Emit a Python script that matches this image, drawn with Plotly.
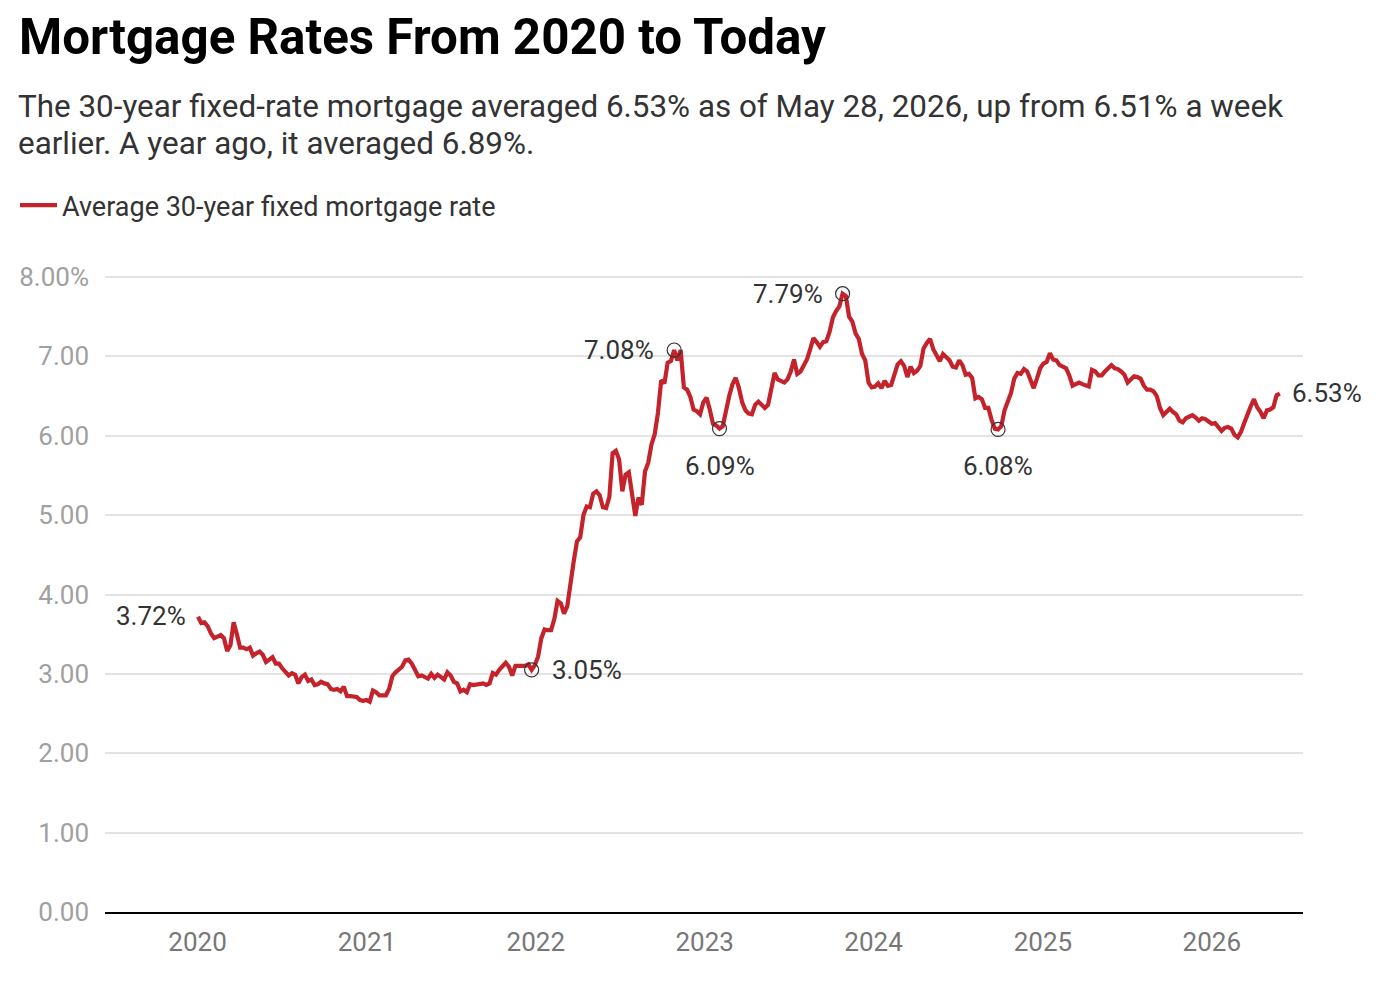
import pandas as pd
import plotly.graph_objects as go

# Weekly average 30-year fixed mortgage rate (%), Thursdays from 2020-01-02
rates_2020 = [3.72, 3.64, 3.65, 3.60, 3.51, 3.45, 3.47, 3.49, 3.45, 3.29, 3.36, 3.65, 3.50,
              3.33, 3.33, 3.31, 3.33, 3.23, 3.26, 3.28, 3.24, 3.15, 3.18, 3.21, 3.13, 3.13,
              3.07, 3.03, 2.98, 3.01, 2.99, 2.88, 2.96, 2.99, 2.91, 2.93, 2.86, 2.87, 2.90,
              2.88, 2.87, 2.81, 2.80, 2.81, 2.78, 2.84, 2.72, 2.72, 2.71, 2.71, 2.67, 2.66, 2.67]
rates_2021 = [2.65, 2.79, 2.77, 2.73, 2.73, 2.73, 2.81, 2.97, 3.02, 3.05, 3.09, 3.17,
              3.18, 3.13, 3.04, 2.97, 2.98, 2.96, 2.94, 3.00, 2.95, 2.99, 2.96, 2.93, 3.02,
              2.98, 2.90, 2.88, 2.78, 2.80, 2.77, 2.87, 2.86, 2.87, 2.87, 2.88, 2.86, 2.88, 3.01,
              2.99, 3.05, 3.09, 3.14, 3.09, 2.98, 3.10, 3.10, 3.11, 3.10, 3.12, 3.05, 3.11]
rates_2022 = [3.22, 3.45, 3.56, 3.55, 3.55, 3.69, 3.92, 3.89, 3.76, 3.85, 4.16, 4.42, 4.67,
              4.72, 5.00, 5.11, 5.10, 5.27, 5.30, 5.25, 5.10, 5.09, 5.23, 5.78, 5.81, 5.70,
              5.30, 5.51, 5.54, 5.30, 4.99, 5.22, 5.13, 5.55, 5.66, 5.89, 6.02, 6.29, 6.70,
              6.66, 6.92, 6.94, 7.08, 6.95, 7.08, 6.61, 6.58, 6.49, 6.33, 6.31, 6.27, 6.42]
rates_2023 = [6.48, 6.33, 6.15, 6.13, 6.09, 6.12, 6.32, 6.50, 6.65, 6.73, 6.60, 6.42, 6.32,
              6.28, 6.27, 6.39, 6.43, 6.39, 6.35, 6.39, 6.57, 6.79, 6.71, 6.69, 6.67, 6.71,
              6.81, 6.96, 6.78, 6.81, 6.90, 6.96, 7.09, 7.23, 7.18, 7.12, 7.18, 7.19, 7.31,
              7.49, 7.57, 7.63, 7.79, 7.76, 7.50, 7.44, 7.29, 7.22, 7.03, 6.95, 6.67, 6.61]
rates_2024 = [6.62, 6.66, 6.60, 6.69, 6.63, 6.64, 6.77, 6.90, 6.94, 6.88, 6.74, 6.87, 6.79,
              6.82, 6.88, 7.10, 7.17, 7.22, 7.09, 7.02, 6.94, 7.03, 6.99, 6.95, 6.87, 6.86,
              6.95, 6.89, 6.77, 6.78, 6.73, 6.47, 6.49, 6.46, 6.35, 6.35, 6.20, 6.09, 6.08,
              6.12, 6.32, 6.44, 6.54, 6.72, 6.79, 6.78, 6.84, 6.81, 6.69, 6.60, 6.72, 6.85]
rates_2025 = [6.91, 6.93, 7.04, 6.96, 6.95, 6.89, 6.87, 6.85, 6.76, 6.63, 6.65, 6.67, 6.65,
              6.64, 6.62, 6.83, 6.81, 6.76, 6.76, 6.81, 6.86, 6.89, 6.85, 6.84, 6.81, 6.77,
              6.67, 6.72, 6.75, 6.74, 6.72, 6.63, 6.58, 6.58, 6.56, 6.50, 6.35, 6.26, 6.30,
              6.34, 6.30, 6.27, 6.19, 6.17, 6.22, 6.24, 6.26, 6.23, 6.19, 6.22, 6.21, 6.18]
rates_2026 = [6.15, 6.16, 6.10, 6.06, 6.10, 6.11, 6.09, 6.01, 5.98, 6.05, 6.16, 6.28, 6.37,
              6.46, 6.36, 6.30, 6.22, 6.32, 6.33, 6.36, 6.51, 6.53]

rates = rates_2020 + rates_2021 + rates_2022 + rates_2023 + rates_2024 + rates_2025 + rates_2026
dates = pd.date_range("2020-01-02", periods=len(rates), freq="7D")

year_ticks = ["2020-01-01", "2021-01-01", "2022-01-01", "2023-01-01", "2024-01-01", "2025-01-01", "2026-01-01"]
year_labels = ["2020", "2021", "2022", "2023", "2024", "2025", "2026"]
y_ticks = [0, 1, 2, 3, 4, 5, 6, 7, 8]
y_labels = ["0.00", "1.00", "2.00", "3.00", "4.00", "5.00", "6.00", "7.00", "8.00%"]

highlight_dates = ["2021-12-23", "2022-10-27", "2023-02-02", "2023-10-26", "2024-09-26"]

title = "Mortgage Rates From 2020 to Today"
subtitle_lines = ["The 30-year fixed-rate mortgage averaged 6.53% as of May 28, 2026, up from 6.51% a week",
                  "earlier. A year ago, it averaged 6.89%."]
series_name = "Average 30-year fixed mortgage rate"

# ---- layout geometry (pixels) ----
W, H = 1381, 995
L, R, T, B = 105, 78, 260, 83
PW, PH = W - L - R, H - T - B
RED = "#C4232B"
FONT = "Roboto"


def px(xp):
    return (xp - L) / PW


def py(yp):
    return (H - B - yp) / PH


fig = go.Figure()
fig.add_trace(go.Scatter(x=dates, y=rates, mode="lines", name=series_name,
                         line=dict(color=RED, width=4.2), hoverinfo="x+y"))

idx = [list(dates.strftime("%Y-%m-%d")).index(d) for d in highlight_dates]
fig.add_trace(go.Scatter(x=[dates[i] for i in idx], y=[rates[i] for i in idx], mode="markers",
                         marker=dict(symbol="circle-open", size=14, color="#333333",
                                     line=dict(width=1.2, color="#333333")),
                         showlegend=False, hoverinfo="skip"))

ann_font = dict(family=FONT, size=26, color="#333333")
label_specs = [
    (0, "right", "middle", -10, 1),
    (idx[0], "left", "middle", 18, 0),
    (idx[1], "right", "middle", -18, 0),
    (idx[2], "center", "middle", 0, -37),
    (idx[3], "right", "middle", -18, 0),
    (idx[4], "center", "middle", 0, -37),
    (len(rates) - 1, "left", "middle", 10, 1),
]
annotations = []
for i, xa, ya, xs, ys in label_specs:
    annotations.append(dict(x=dates[i], y=rates[i], xref="x", yref="y", text=f"{rates[i]:.2f}%",
                            showarrow=False, xanchor=xa, yanchor=ya, xshift=xs, yshift=ys,
                            font=ann_font))

for line_text, yc in zip(subtitle_lines, [106, 143]):
    annotations.append(dict(x=px(16), y=py(yc), xref="paper", yref="paper", text=line_text,
                            showarrow=False, xanchor="left", yanchor="middle", align="left",
                            font=dict(family=FONT, size=31.4, color="#333333")))

fig.update_layout(
    width=W, height=H,
    margin=dict(l=L, r=R, t=T, b=B),
    paper_bgcolor="white", plot_bgcolor="white",
    title=dict(text=f"<b>{title}</b>", x=19 / W, xanchor="left", y=1 - 37 / H, yanchor="middle",
               font=dict(family=FONT, size=49.3, color="#000000")),
    font=dict(family=FONT),
    showlegend=True,
    legend=dict(x=px(15), y=py(181), xanchor="left", yanchor="top", itemwidth=37,
                font=dict(family=FONT, size=27, color="#333333"), bgcolor="rgba(0,0,0,0)"),
    annotations=annotations,
    xaxis=dict(range=["2019-06-15", "2026-07-17"], tickvals=year_ticks, ticktext=year_labels,
               showgrid=False, showline=True, linecolor="#000000", linewidth=2, ticks="",
               ticklabelstandoff=6,
               tickfont=dict(family=FONT, size=26, color="#777777"), zeroline=False),
    yaxis=dict(range=[0, PH / 79.375], tickvals=y_ticks, ticktext=y_labels,
               showgrid=True, gridcolor="#e3e3e3", gridwidth=1.5, zeroline=False,
               ticks="", ticklabelstandoff=15,
               tickfont=dict(family=FONT, size=26, color="#a0a0a0")),
    hovermode="closest",
)

fig.write_html("out.html")
